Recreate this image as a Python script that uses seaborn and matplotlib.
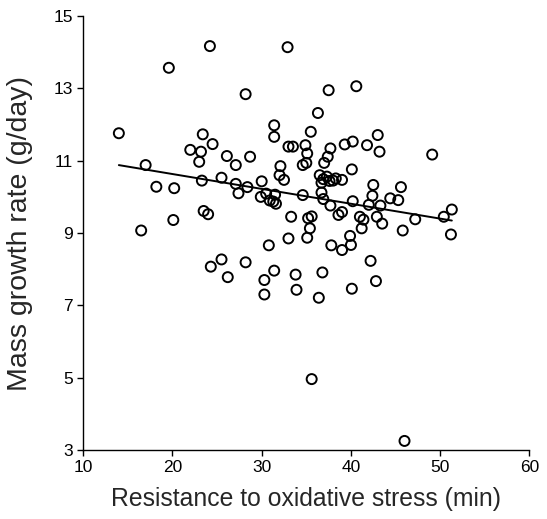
import matplotlib
matplotlib.use("Agg")
import matplotlib.pyplot as plt
import pandas as pd
import seaborn as sns

# resistance to oxidative stress (min) and mass growth rate (g/day)
resistance = [14.0, 24.2, 19.6, 28.2, 32.9, 17.0, 18.2, 20.2, 20.1, 16.5,
              22.0, 23.2, 23.0, 23.4, 24.5, 23.3, 23.5, 24.0, 25.5, 26.1,
              27.1, 28.7, 27.1, 27.4, 28.4, 30.0, 29.9, 30.5, 31.5, 30.9,
              31.3, 31.6, 31.4, 31.4, 32.1, 32.0, 32.5, 33.0, 33.5, 34.6,
              34.6, 33.3, 35.5, 34.9, 35.1, 35.0, 30.8, 33.0, 35.1, 35.2,
              35.6, 35.4, 37.5, 40.6, 36.3, 37.7, 37.4, 37.0, 39.3, 40.2,
              41.8, 43.0, 43.2, 49.1, 40.1, 36.5, 36.9, 37.3, 37.6, 38.0,
              38.3, 39.0, 36.7, 42.5, 45.6, 36.7, 36.9, 37.7, 40.2, 42.4,
              42.0, 43.3, 44.4, 45.3, 51.3, 50.4, 47.2, 51.2, 45.8, 38.6,
              39.0, 41.0, 41.4, 42.9, 43.5, 41.2, 39.9, 37.8, 39.0, 40.0,
              42.2, 36.8, 42.8, 40.1, 36.4, 35.6, 46.0, 24.3, 25.5, 26.2,
              28.2, 30.3, 31.4, 30.3, 33.8, 33.9]
growth = [11.76, 14.17, 13.57, 12.84, 14.14, 10.88, 10.28, 10.24, 9.36, 9.07,
          11.30, 11.25, 10.97, 11.73, 11.46, 10.45, 9.61, 9.52, 10.53, 11.13,
          10.88, 11.11, 10.36, 10.10, 10.27, 10.43, 10.00, 10.09, 10.06, 9.90,
          9.87, 9.81, 11.98, 11.66, 10.85, 10.60, 10.47, 11.39, 11.39, 10.88,
          10.05, 9.45, 11.80, 11.43, 11.20, 10.94, 8.66, 8.85, 8.87, 9.41,
          9.46, 9.13, 12.95, 13.06, 12.32, 11.34, 11.11, 10.94, 11.45, 11.53,
          11.43, 11.71, 11.25, 11.17, 10.76, 10.60, 10.49, 10.56, 10.44, 10.45,
          10.51, 10.47, 10.39, 10.33, 10.27, 10.12, 9.94, 9.76, 9.88, 10.03,
          9.78, 9.76, 9.96, 9.91, 9.65, 9.45, 9.38, 8.96, 9.07, 9.50,
          9.58, 9.45, 9.37, 9.45, 9.26, 9.13, 8.92, 8.66, 8.53, 8.67,
          8.23, 7.91, 7.67, 7.46, 7.21, 4.96, 3.25, 8.07, 8.27, 7.78,
          8.19, 7.70, 7.96, 7.30, 7.85, 7.43]

x_ticks = [10, 20, 30, 40, 50, 60]
y_ticks = [3, 5, 7, 9, 11, 13, 15]

df = pd.DataFrame({"resistance": resistance, "growth": growth})

sns.set_style("ticks")
plt.rcParams["font.family"] = ["Liberation Sans", "DejaVu Sans"]

fig = plt.figure(figsize=(5.47, 5.19), dpi=100)
ax = fig.add_axes([0.152, 0.133, 0.816, 0.836])

sns.regplot(data=df, x="resistance", y="growth", ax=ax, ci=None, truncate=True,
            scatter_kws={"s": 52, "facecolors": "none", "edgecolors": "black",
                         "linewidths": 1.4, "alpha": 1},
            line_kws={"color": "black", "lw": 1.4})

ax.set_xlim(10, 60)
ax.set_ylim(3, 15)
ax.set_xticks(x_ticks)
ax.set_yticks(y_ticks)
ax.tick_params(direction="out", length=4, width=1, labelsize=12.5, colors="black")
for side in ["top", "right"]:
    ax.spines[side].set_visible(False)
for side in ["left", "bottom"]:
    ax.spines[side].set_color("black")
    ax.spines[side].set_linewidth(1)

ax.set_xlabel("Resistance to oxidative stress (min)", fontsize=17.8, labelpad=8)
ax.set_ylabel("Mass growth rate (g/day)", fontsize=20.5)
ax.yaxis.set_label_coords(-0.113, 0.5)

fig.savefig("out.png", dpi=100)
